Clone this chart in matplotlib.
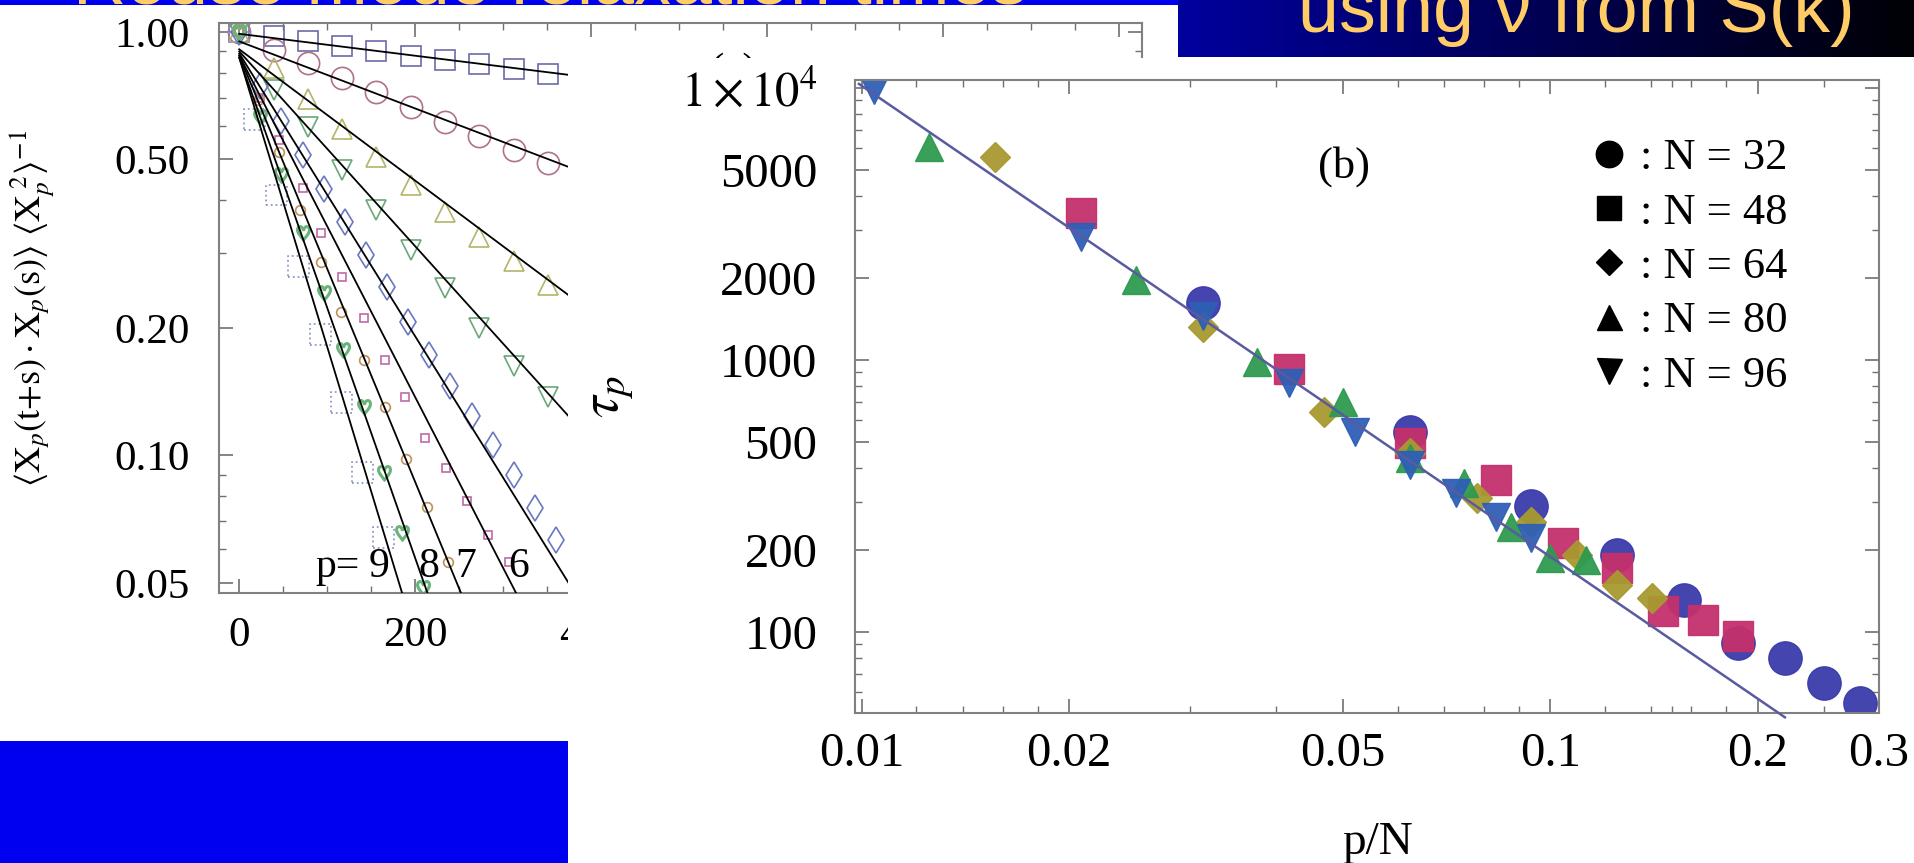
import numpy as np
import matplotlib.pyplot as plt
from matplotlib.patches import Rectangle
from matplotlib.lines import Line2D
from matplotlib.ticker import NullFormatter

plt.rcParams['font.family'] = ['Liberation Serif', 'DejaVu Serif']
plt.rcParams['mathtext.fontset'] = 'stix'

W, H = 1915, 863


def box(x0, y0, x1, y1):
    # pixel box measured from the top-left corner -> figure fraction rect
    return [x0 / W, 1 - y1 / H, (x1 - x0) / W, (y1 - y0) / H]


# ---- panel (a): mode autocorrelation vs t, one series per mode p
a_t1 = [0, 39, 78, 117, 156, 195, 234, 273, 312, 351]
a_v1 = [1.0, 0.978, 0.952, 0.927, 0.902, 0.879, 0.858, 0.838, 0.817, 0.796]
a_t2 = [0, 39, 78, 117, 156, 195, 234, 273, 312, 351]
a_v2 = [1.0, 0.905, 0.845, 0.78, 0.72, 0.665, 0.612, 0.567, 0.527, 0.49]
a_t3 = [0, 39, 78, 117, 156, 195, 234, 273, 312, 351]
a_v3 = [1.0, 0.82, 0.695, 0.59, 0.507, 0.435, 0.376, 0.328, 0.287, 0.252]
a_t4 = [0, 39, 78, 117, 156, 195, 234, 273, 312, 351]
a_v4 = [1.0, 0.73, 0.597, 0.472, 0.38, 0.306, 0.248, 0.2, 0.163, 0.137]
a_t5 = [0, 24, 48, 72, 96, 120, 144, 168, 192, 216, 240, 264, 288, 312, 336, 360]
a_v5 = [1.0, 0.745, 0.615, 0.512, 0.425, 0.355, 0.297, 0.25, 0.207, 0.173,
        0.146, 0.124, 0.106, 0.09, 0.075, 0.063]
a_t6 = [0, 24, 45, 72, 93, 117, 142, 166, 188, 211, 235, 259, 283, 307]
a_v6 = [1.0, 0.70, 0.556, 0.428, 0.335, 0.264, 0.211, 0.168, 0.137, 0.11,
        0.0935, 0.078, 0.065, 0.056]
a_t7 = [0, 21, 45, 69, 93, 116, 142, 166, 190, 213, 237]
a_v7 = [1.0, 0.69, 0.52, 0.38, 0.286, 0.218, 0.168, 0.13, 0.098, 0.0755, 0.056]
a_t8 = [0, 24, 48, 72, 96, 118, 142, 164, 185, 209]
a_v8 = [1.0, 0.63, 0.46, 0.335, 0.242, 0.177, 0.13, 0.091, 0.0656, 0.0486]
a_t9 = [0, 17, 42, 67, 92, 116, 140, 164, 188]
a_v9 = [1.0, 0.62, 0.412, 0.279, 0.193, 0.133, 0.091, 0.064, 0.044]

# exponential fits: straight lines on the log axis, start (t=0) and end values
fit_v_start = [0.99, 0.95, 0.91, 0.90, 0.89, 0.88, 0.88, 0.87, 0.87]
fit_t_end = [400, 400, 400, 400, 400, 330, 270, 230, 200]
fit_v_end = [0.78, 0.458, 0.218, 0.108, 0.041, 0.041, 0.0384, 0.038, 0.0374]

a_colors = ['#6b6ba8', '#b0708e', '#b4b46a', '#6aa878', '#6a78c0',
            '#c069a8', '#c0905a', '#6ab47a', '#8c9ac8']
a_markers = ['s', 'o', '^', 'v', 'd', 's', 'o', r'$\heartsuit$', 's']
a_sizes = [14, 16, 15, 15, 13, 6, 7, 11, 15]

# ---- panel (b): relaxation time tau_p vs p/N
b_p = [1, 2, 3, 4, 5, 6, 7, 8, 9]
b_N = [32, 48, 64, 80, 96]
tau_32 = [1620, 543, 290, 192, 131, 91, 80, 65, 55]
tau_48 = [3470, 925, 495, 362, 212, 172, 120, 111, 97]
tau_64 = [5575, 1322, 645, 455, 311, 254, 192, 149, 133]
tau_80 = [6070, 1968, 984, 700, 436, 353, 243, 187, 184]
tau_96 = [9840, 2830, 1450, 821, 543, 410, 324, 265, 221]
fit_x = [0.0099, 0.219]
fit_y = [10350, 48.6]

b_colors = ['#3b3bab', '#c4306c', '#a89a30', '#2e9a50', '#2f5fb5']
b_markers = ['o', 's', 'D', '^', 'v']
b_sizes = [24, 21, 15, 20, 20]

fig = plt.figure(figsize=(W / 100, H / 100), dpi=100)

spine_c = '#808080'


def style_axes(ax, size):
    for s in ax.spines.values():
        s.set_color(spine_c)
        s.set_linewidth(1.5)
    ax.tick_params(which='both', direction='in', top=True, right=True,
                   color='#707070', labelsize=size)
    ax.tick_params(which='major', length=10, width=1.2)
    ax.tick_params(which='minor', length=5, width=1.0)


# ---------------- panel (a)
ax_a = fig.add_axes(box(219, 23, 1142, 593))
ax_a.set_zorder(0)
ax_a.set_yscale('log')
ax_a.set_xlim(-23, 1026)
ax_a.set_ylim(0.0473, 1.05)

series_a = [(a_t1, a_v1), (a_t2, a_v2), (a_t3, a_v3), (a_t4, a_v4), (a_t5, a_v5),
            (a_t6, a_v6), (a_t7, a_v7), (a_t8, a_v8), (a_t9, a_v9)]
for i, (t, v) in enumerate(series_a):
    if i == 8:
        ax_a.scatter(t, v, marker='s', s=a_sizes[i] ** 2, facecolors='none',
                     edgecolors=a_colors[i], linestyles=':', linewidths=1.3, zorder=2)
    else:
        ax_a.plot(t, v, ls='none', marker=a_markers[i], ms=a_sizes[i],
                  mfc='none', mec=a_colors[i], mew=1.2, zorder=2)
    ax_a.plot([0, fit_t_end[i]], [fit_v_start[i], fit_v_end[i]],
              color='black', lw=1.3, zorder=3)

# labels past 400 sit under the second figure anyway
ax_a.set_xticks([0, 200, 400, 600, 800, 1000], ['0', '200', '400', '', '', ''])
ax_a.set_xticks(np.arange(0, 1001, 50), minor=True)
ax_a.set_yticks([0.05, 0.1, 0.2, 0.5, 1.0], ['0.05', '0.10', '0.20', '0.50', '1.00'])
ax_a.set_yticks([0.06, 0.07, 0.08, 0.09, 0.3, 0.4, 0.6, 0.7, 0.8, 0.9], minor=True)
ax_a.yaxis.set_minor_formatter(NullFormatter())
style_axes(ax_a, 31)
ax_a.tick_params(axis='y', pad=21)
ax_a.tick_params(axis='x', pad=17)
ax_a.set_ylabel(r'$\langle \mathrm{X}_p(\mathrm{t{+}s})\cdot\mathrm{X}_p(\mathrm{s})\rangle\ '
                r'\langle \mathrm{X}_p^{\ 2}\rangle^{-1}$', fontsize=26)
ax_a.yaxis.set_label_coords(-0.175, 0.5)

ax_a.text(0.557, 0.914, '(a)', transform=ax_a.transAxes, fontsize=31,
          ha='center', va='center')
ax_a.text(112, 0.0546, 'p=', fontsize=30, ha='center', va='center')
for lab, tx in zip(['9', '8', '7', '6'], [159, 216, 257, 318]):
    ax_a.text(tx, 0.0546, lab, fontsize=30, ha='center', va='center')

# white panel that the second figure sits on
fig.add_artist(Rectangle((568 / W, 0), 1 - 568 / W, (H - 58) / H,
                         transform=fig.transFigure, facecolor='white',
                         edgecolor='none', zorder=1))

# ---------------- panel (b)
ax_b = fig.add_axes(box(855, 80, 1879, 713))
ax_b.set_zorder(2)
ax_b.set_xscale('log')
ax_b.set_yscale('log')
ax_b.set_xlim(0.00977, 0.3)
ax_b.set_ylim(50.4, 10700)

series_b = [tau_32, tau_48, tau_64, tau_80, tau_96]
for N, tau, c, m, ms in zip(b_N, series_b, b_colors, b_markers, b_sizes):
    ax_b.plot(np.array(b_p) / N, tau, ls='none', marker=m, ms=ms,
              color=c, mec=c, alpha=0.95, zorder=2)
ax_b.plot(fit_x, fit_y, color='#5a5aa0', lw=1.8, zorder=3, clip_on=False)

ax_b.set_xticks([0.01, 0.02, 0.05, 0.1, 0.2, 0.3],
                ['0.01', '0.02', '0.05', '0.1', '0.2', '0.3'])
ax_b.set_xticks([0.012, 0.014, 0.016, 0.018, 0.03, 0.04, 0.06, 0.07, 0.08, 0.09,
                 0.12, 0.14, 0.15, 0.16, 0.18, 0.25], minor=True)
ax_b.set_yticks([100, 200, 500, 1000, 2000, 5000, 10000],
                ['100', '200', '500', '1000', '2000', '5000', r'$1\times10^{4}$'])
ax_b.set_yticks([60, 70, 80, 90, 300, 400, 600, 700, 800, 900,
                 3000, 4000, 6000, 7000, 8000, 9000], minor=True)
ax_b.xaxis.set_minor_formatter(NullFormatter())
ax_b.yaxis.set_minor_formatter(NullFormatter())
style_axes(ax_b, 35)
ax_b.tick_params(axis='y', pad=27)
ax_b.tick_params(axis='x', pad=14)

ax_b.set_xlabel('p/N', fontsize=34)
ax_b.xaxis.set_label_coords(0.51, -0.172)
ax_b.set_ylabel(r'$\tau_p$', fontsize=40)
ax_b.yaxis.set_label_coords(-0.214, 0.5)
ax_b.text(0.4775, 0.8626, '(b)', transform=ax_b.transAxes, fontsize=32,
          ha='center', va='center')

handles = [Line2D([], [], ls='none', marker=m, color='black', ms=s)
           for m, s in zip(b_markers, [19, 17, 13, 18, 18])]
labels = [': N = %d' % n for n in b_N]
ax_b.legend(handles, labels, loc='upper left', bbox_to_anchor=(0.719, 0.908),
            frameon=False, fontsize=32, handlelength=0.8, handletextpad=0.3,
            labelspacing=0.32, borderpad=0, borderaxespad=0)

# ---------------- slide decorations
ax_strip = fig.add_axes(box(0, 0, 1178, 5))
ax_strip.set_zorder(5)
ax_strip.set_facecolor('#0000f0')
ax_strip.set_xticks([])
ax_strip.set_yticks([])
for s in ax_strip.spines.values():
    s.set_visible(False)
ax_strip.text(0.062, 0.2, 'Rouse mode relaxation times', transform=ax_strip.transAxes,
              fontsize=53, family='Liberation Sans', color='#ffcc66',
              ha='left', va='baseline', clip_on=True)

ax_title = fig.add_axes(box(1178, 0, W, 57))
ax_title.set_zorder(5)
grad = np.linspace(0, 1, 256)
grad_rgb = np.zeros((1, 256, 3))
grad_rgb[0, :, 2] = 0.62 - 0.60 * grad
ax_title.imshow(grad_rgb, aspect='auto', extent=[0, 1, 0, 1])
ax_title.set_xlim(0, 1)
ax_title.set_ylim(0, 1)
ax_title.axis('off')
ax_title.text(0.9186, 0.4386, 'using \u03bd from S(k)', transform=ax_title.transAxes,
              fontsize=53, family='Liberation Sans', color='#ffcc66',
              ha='right', va='baseline', clip_on=True)

fig.add_artist(Rectangle((0, 0), 568 / W, (H - 741) / H, transform=fig.transFigure,
                         facecolor='#0000f0', edgecolor='none', zorder=5))

fig.savefig('out.png', dpi=100)
